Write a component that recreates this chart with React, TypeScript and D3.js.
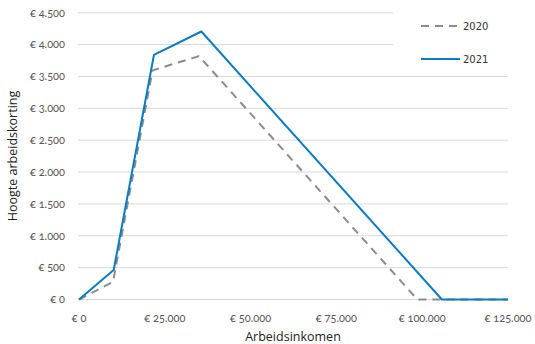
import React from "react";
import * as d3 from "d3";

const incomes2020 = [0, 9921, 21430, 34954, 98604, 125000];
const values2020 = [0, 279, 3595, 3819, 0, 0];
const incomes2021 = [0, 10108, 21835, 35652, 105736, 125000];
const values2021 = [0, 463, 3837, 4205, 0, 0];
const xTicks = [0, 25000, 50000, 75000, 100000, 125000];
const yTicks = [0, 500, 1000, 1500, 2000, 2500, 3000, 3500, 4000, 4500];
const seriesNames = ["2020", "2021"];

const W = 535, H = 344;
const fmt = (v: number) => "€ " + d3.format(",")(v).replace(/,/g, ".");

export default function App() {
  const x = d3.scaleLinear().domain([0, 125000]).range([79, 508]);
  const y = d3.scaleLinear().domain([0, 4500]).range([299.5, 12.7]);
  const line = d3.line<[number, number]>().x(d => x(d[0])).y(d => y(d[1]));
  const d2020 = line(incomes2020.map((v, i) => [v, values2020[i]] as [number, number]))!;
  const d2021 = line(incomes2021.map((v, i) => [v, values2021[i]] as [number, number]))!;
  const tickFont = "Lato, 'Open Sans', sans-serif";
  return (
    <svg width={W} height={H} style={{ position: "absolute", left: 0, top: 0, background: "#fff" }}>
      {yTicks.map(t => (
        <line key={"g" + t} x1={78} x2={t >= 4000 ? 393 : 508} y1={y(t)} y2={y(t)} stroke="#d9d9d9" strokeWidth={1} />
      ))}
      {yTicks.map(t => (
        <text key={"y" + t} x={65} y={y(t)} dy="0.35em" textAnchor="end" fontFamily={tickFont}
          fontSize={11} fill="#555" style={{ fontVariantNumeric: "oldstyle-nums" }}>{fmt(t)}</text>
      ))}
      {xTicks.map(t => (
        <text key={"x" + t} x={x(t)} y={322} textAnchor="middle" fontFamily={tickFont}
          fontSize={11} fill="#555" style={{ fontVariantNumeric: "oldstyle-nums" }}>{fmt(t)}</text>
      ))}
      <path d={d2020} fill="none" stroke="#8c8c8c" strokeWidth={2} strokeDasharray="8,6" strokeLinejoin="round" />
      <path d={d2021} fill="none" stroke="#0a7cc5" strokeWidth={2} strokeLinejoin="round" />
      <text x={293} y={341} textAnchor="middle" fontFamily="'Open Sans', sans-serif" fontSize={12.5} fill="#222">Arbeidsinkomen</text>
      <text transform={`translate(17,${156}) rotate(-90)`} textAnchor="middle" fontFamily="'Open Sans', sans-serif" fontSize={12.5} fill="#222">Hoogte arbeidskorting</text>
      <line x1={421} x2={460} y1={26} y2={26} stroke="#8c8c8c" strokeWidth={2} strokeDasharray="8,6" />
      <line x1={421} x2={460} y1={59} y2={59} stroke="#0a7cc5" strokeWidth={2} />
      <text x={463} y={26} dy="0.35em" fontFamily="'DejaVu Sans', sans-serif" fontSize={10} fill="#333">{seriesNames[0]}</text>
      <text x={463} y={59} dy="0.35em" fontFamily="'DejaVu Sans', sans-serif" fontSize={10} fill="#333">{seriesNames[1]}</text>
    </svg>
  );
}
